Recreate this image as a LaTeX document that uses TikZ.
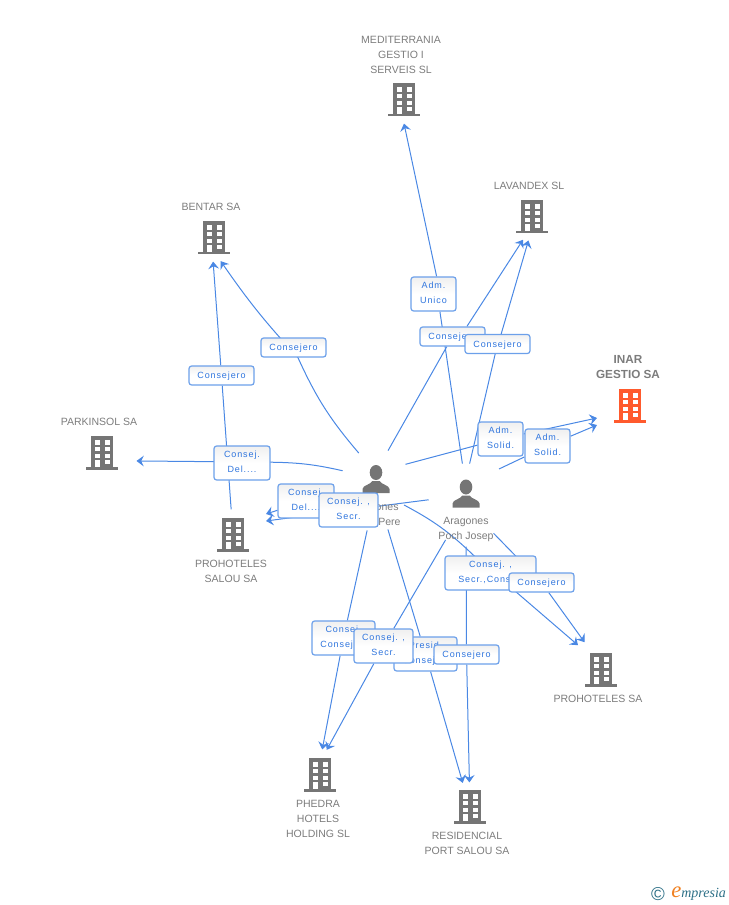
\documentclass[tikz,border=0pt]{standalone}
\usepackage{fontspec}
\setmainfont{Liberation Sans}
\newfontfamily\tagfont[LetterSpace=10]{Liberation Sans}
\newfontfamily\logofont{Liberation Serif}
\usetikzlibrary{shapes.geometric, arrows.meta, backgrounds}
\definecolor{edgeblue}{HTML}{4A88E4}
\definecolor{tagborder}{HTML}{6CA0EA}
\definecolor{tagtext}{HTML}{2F75DE}
\definecolor{icongrey}{HTML}{757575}
\definecolor{iconred}{HTML}{FF5A2D}
\definecolor{captiongrey}{HTML}{7C7C7C}
\definecolor{logoteal}{HTML}{2C6F86}
\definecolor{logoorange}{HTML}{F08020}

\begin{document}
\begin{tikzpicture}[
      x=0.75pt, y=-0.75pt,
      spot/.style={ellipse, inner sep=0pt, minimum width=54pt, minimum height=38pt},
      personspot/.style={ellipse, inner sep=0pt, minimum width=56pt, minimum height=62pt},
      caption/.style={text=captiongrey, align=center, inner sep=0pt, font=\fontsize{7.9}{11.25}\selectfont},
      tag/.style={rectangle, draw=tagborder, line width=0.9pt, rounded corners=2pt, top color=black!6, bottom color=white, middle color=white, text=tagtext, align=center, inner sep=0pt, minimum width=#1*0.75pt, minimum height=14.25pt, font=\tagfont\fontsize{6.75}{11.25}\selectfont, execute at begin node={\rule{0pt}{6.6pt}}, execute at end node={\rule[-1.5pt]{0pt}{1.5pt}}},
      tagtall/.style={tag=#1, minimum height=25.5pt},
      link/.style={draw=edgeblue, line width=0.75pt},
      line/.style={link, -{Stealth[length=5.5pt, width=8pt, inset=2pt]}},
      pics/building/.style={code={
        \fill[#1] (-11,-17) rectangle (11,14);
        \fill[#1] (-16,14) rectangle (16,16.5);
        \foreach \wx in {-7.3, 2.7} \foreach \wy in {-12.7, -6, 0.7}
          \fill[white] (\wx,\wy) rectangle ++(5,4.4);
        \fill[white] (-7.3,6.7) rectangle (-2.3,14);
        \fill[white] (2.7,6.7) rectangle (7.7,11);
      }},
      pics/person/.style={code={
        \fill[icongrey] (0,-7.5) ellipse [x radius=6.3, y radius=7.5];
        \fill[icongrey] (-13.5,13) -- (-13.5,9) .. controls (-13,5) and (-6,5) .. (-3.5,1) -- (3.5,1) .. controls (6,5) and (13,5) .. (13.5,9) -- (13.5,13) -- cycle;
      }}
    ]
    \useasboundingbox (0,0) rectangle (728,905);

    % Buildings
    \foreach \name/\px/\py/\sy in {mediterrania/404/100/98, lavandex/532/217/215, bentar/214/238/236, parkinsol/102/453/453, salou/233/535/535, prohoteles/601/670/665, phedra/320/775/775, residencial/470/807/808} {
      \node[spot] (\name) at (\px,\sy) {};
      \pic at (\px,\py) {building=icongrey};
    }
    \node[spot] (inar) at (630,406) {};
    \pic at (630,406) {building=iconred};

    % People
    \node[personspot] (pere) at (376,490) {};
    \pic at (376,480) {person};
    \node[personspot] (josep) at (466,505) {};
    \pic at (466,494.5) {person};

    % Free ends of some connections
    \coordinate (josepout) at (499,469);
    \coordinate (pereout) at (404,505);
    \coordinate (inarin) at (597,418);
    \coordinate (inarinb) at (597,425);
    \coordinate (salouin) at (266,514);
    \coordinate (salouinb) at (266,521);

    % Captions
    \node[caption] (mediterranialabel) at (401,54.5) {MEDITERRANIA\\GESTIO I\\SERVEIS SL};
    \node[caption] (lavandexlabel) at (529,186) {LAVANDEX SL};
    \node[caption] (bentarlabel) at (211,207) {BENTAR SA};
    \node[caption, font=\bfseries\fontsize{8.8}{11.25}\selectfont] (inarlabel) at (628,367) {INAR\\GESTIO SA};
    \node[caption] (parkinsollabel) at (99,422) {PARKINSOL SA};
    \node[caption] (saloulabel) at (231,571.5) {PROHOTELES\\SALOU SA};
    \node[caption] (prohoteleslabel) at (598,699) {PROHOTELES SA};
    \node[caption] (phedralabel) at (318,819) {PHEDRA\\HOTELS\\HOLDING SL};
    \node[caption] (residenciallabel) at (467,843.5) {RESIDENCIAL\\PORT SALOU SA};
    \node[caption] (perelabel) at (376,514) {Aragones\\Poch Pere};
    \node[caption] (joseplabel) at (466,529.5) {Aragones\\Poch Josep};

    % Labels of the connections
    \node[tagtall=45] (admunico) at (433.5,294) {Adm.\\Unico};
    \node[tag=65] (conslav) at (452.5,336.5) {Consejero};
    \node[tag=65] (conslavb) at (497.5,344) {Consejero};
    \node[tag=65] (consbentar) at (293.5,347.5) {Consejero};
    \node[tag=65] (conssalou) at (221.5,375.5) {Consejero};
    \node[tagtall=45] (solida) at (500.5,439) {Adm.\\Solid.};
    \node[tagtall=45] (solidb) at (547.5,446) {Adm.\\Solid.};
    \node[tagtall=56] (delpark) at (242,463) {Consej.\\Del....};
    \node[tagtall=56] (delsalou) at (306,501) {Consej.\\Del....};
    \node[tagtall=59] (secrsalou) at (348.5,510) {Consej. ,\\Secr.};
    \node[tagtall=91] (secrpro) at (490.5,573) {Consej. ,\\Secr.,Consej.};
    \node[tag=65] (conspro) at (541.5,582.5) {Consejero};
    \node[tagtall=63] (consphedra) at (343.5,638) {Consej.\\Consej....};
    \node[tagtall=63] (presid) at (425.5,654) {Presid.\\Consej....};
    \node[tagtall=59] (secrphedra) at (383.5,646) {Consej. ,\\Secr.};
    \node[tag=65] (consres) at (466.5,654.5) {Consejero};

    % Logo
    \node[inner sep=0pt, text=logoteal, font=\fontsize{14}{14}\selectfont] (logomark) at (658,894) {©};
    \node[inner sep=0pt, anchor=west, text=logoteal, font=\logofont\itshape\fontsize{10.5}{12}\selectfont] (logoname) at (671,894) {\textcolor{logoorange}{\fontsize{17}{12}\selectfont e}mpresia};

    % Connections
    \begin{scope}[on background layer]
      \draw[link] (josep.95) -- (admunico.-70);
      \draw[line] (admunico.80) -- (mediterrania.south);
      \draw[link] (pere.73) -- (conslav);
      \draw[line] (conslav.35) -- (lavandex.250);
      \draw[link] (josep.85) -- (conslavb);
      \draw[line] (conslavb.70) -- (lavandex.262);
      \draw[line] (pere.115) to[bend left=8] (consbentar) to[bend left=4] (bentar.285);
      \draw[line] (salou) -- (conssalou) -- (bentar.268);
      \draw[line] (pere.41) -- (solida) -- (inarin);
      \draw[line] (josepout) -- (solidb) -- (inarinb);
      \draw[line] (pere.150) to[bend right=6] (delpark) -- (parkinsol.-13);
      \draw[line] (pere) -- (delsalou) -- (salouin);
      \draw[line] (josep.172) -- (secrsalou) -- (salouinb);
      \draw[line] (pereout) to[bend left=8] (secrpro) -- (prohoteles);
      \draw[line] (josep) -- (conspro) -- (prohoteles);
      \draw[line] (pere) -- (consphedra) -- (phedra.85);
      \draw[line] (josep) -- (secrphedra) -- (phedra.75);
      \draw[line] (pere) -- (presid) -- (residencial);
      \draw[line] (josep) -- (consres) -- (residencial);
    \end{scope}
\end{tikzpicture}
\end{document}
